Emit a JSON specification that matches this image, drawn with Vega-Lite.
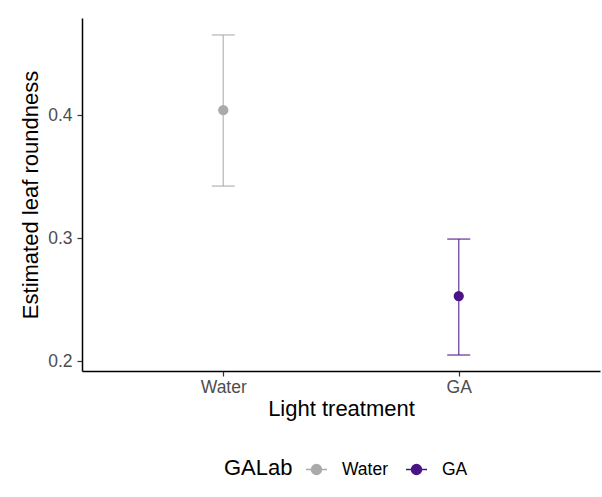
{
  "$schema": "https://vega.github.io/schema/vega-lite/v6.json",
  "width": 518,
  "height": 353,
  "autosize": {"type": "none"},
  "padding": {"left": 82, "top": 18, "right": 2, "bottom": 126},
  "background": "white",
  "data": {
    "values": [
      {"treatment": "Water", "GALab": "Water", "mean": 0.404, "lower": 0.3423, "upper": 0.4652},
      {"treatment": "GA", "GALab": "GA", "mean": 0.2528, "lower": 0.2049, "upper": 0.2992}
    ]
  },
  "config": {
    "font": "Liberation Sans",
    "view": {"stroke": null},
    "axis": {
      "grid": false,
      "domainColor": "black",
      "domainWidth": 1.5,
      "tickColor": "#333333",
      "tickWidth": 1.2,
      "tickSize": 5,
      "labelColor": "#4d4d4d",
      "labelFontSize": 17.5,
      "labelFont": "Liberation Sans",
      "titleFont": "Liberation Sans",
      "titleFontSize": 22,
      "titleFontWeight": "normal",
      "titleColor": "black"
    },
    "legend": {
      "titleFont": "Liberation Sans",
      "labelFont": "Liberation Sans",
      "titleFontSize": 22,
      "titleFontWeight": "normal",
      "titleColor": "black",
      "labelFontSize": 17.5,
      "labelColor": "black"
    }
  },
  "encoding": {
    "x": {
      "field": "treatment",
      "type": "nominal",
      "sort": ["Water", "GA"],
      "scale": {"type": "point", "padding": 0.6},
      "axis": {"title": "Light treatment", "labelAngle": 0, "labelPadding": 2, "titlePadding": 3}
    },
    "color": {
      "field": "GALab",
      "type": "nominal",
      "sort": ["Water", "GA"],
      "scale": {"domain": ["Water", "GA"], "range": ["#AAAAAA", "#4A1486"]},
      "legend": {
        "title": "GALab",
        "orient": "none",
        "legendX": 142,
        "legendY": 440,
        "direction": "horizontal",
        "titleOrient": "left",
        "titleAnchor": "middle",
        "titleBaseline": "middle",
        "titlePadding": 12,
        "symbolType": "M-1,0H1M-0.47,0A0.47,0.47 0 1,1 0.47,0A0.47,0.47 0 1,1 -0.47,0Z",
        "symbolSize": 441,
        "symbolStrokeWidth": 1.5,
        "symbolOpacity": 1,
        "columnPadding": 14,
        "labelOffset": 14
      }
    }
  },
  "layer": [
    {
      "mark": {"type": "rule", "strokeWidth": 1.5, "opacity": 0.7},
      "encoding": {
        "y": {"field": "lower", "type": "quantitative"},
        "y2": {"field": "upper"}
      }
    },
    {
      "mark": {"type": "tick", "size": 23, "thickness": 1.5, "opacity": 0.7},
      "encoding": {
        "y": {"field": "lower", "type": "quantitative"}
      }
    },
    {
      "mark": {"type": "tick", "size": 23, "thickness": 1.5, "opacity": 0.7},
      "encoding": {
        "y": {"field": "upper", "type": "quantitative"}
      }
    },
    {
      "mark": {"type": "point", "filled": true, "size": 105, "opacity": 1},
      "encoding": {
        "y": {
          "field": "mean",
          "type": "quantitative",
          "scale": {"domain": [0.1919, 0.479], "nice": false, "zero": false},
          "axis": {"title": "Estimated leaf roundness", "values": [0.2, 0.3, 0.4], "format": ".1f", "labelPadding": 5, "titlePadding": 5}
        }
      }
    }
  ]
}
